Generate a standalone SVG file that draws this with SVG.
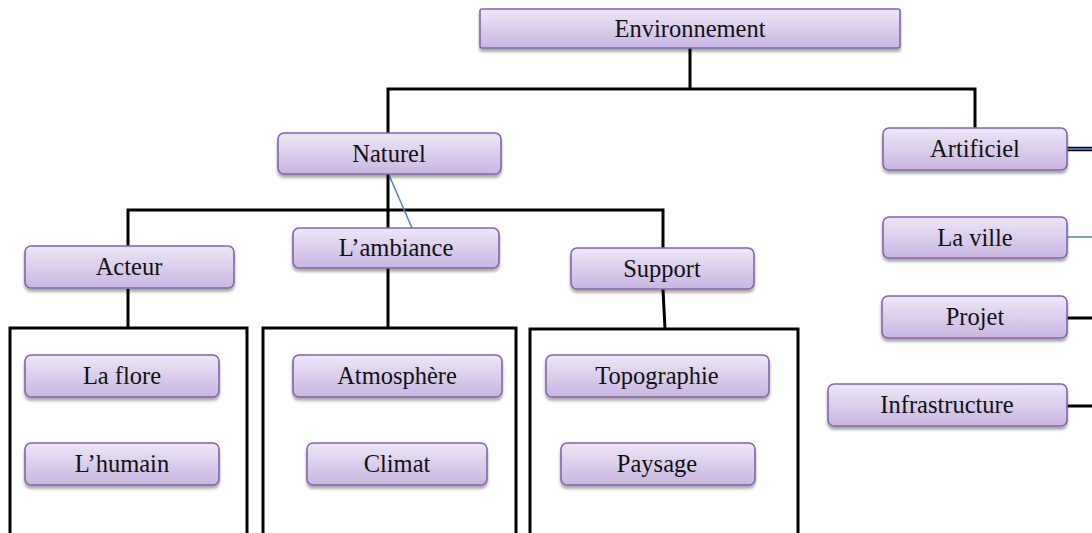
<svg xmlns="http://www.w3.org/2000/svg" width="1092" height="533" viewBox="0 0 1092 533">
<defs>
<linearGradient id="g" x1="0" y1="0" x2="0" y2="1">
<stop offset="0" stop-color="#ede6f7"/>
<stop offset="1" stop-color="#c9b5e2"/>
</linearGradient>
<filter id="sh" x="-10%" y="-20%" width="120%" height="160%">
<feGaussianBlur in="SourceAlpha" stdDeviation="1.5"/>
<feOffset dx="0" dy="2.5" result="b"/>
<feComponentTransfer><feFuncA type="linear" slope="0.35"/></feComponentTransfer>
<feMerge><feMergeNode/><feMergeNode in="SourceGraphic"/></feMerge>
</filter>
</defs>
<style>
.box{fill:url(#g);stroke:#8366a8;stroke-width:1.6;filter:url(#sh)}
text{font-family:'Liberation Serif','DejaVu Serif',serif;font-size:24.5px;fill:#111;text-anchor:middle}
.c{fill:none;stroke:#000;stroke-width:3}
.b{fill:none;stroke:#4f81bd;stroke-width:1.5}
</style>
<rect width="1092" height="533" fill="#fff"/>
<g id="connectors">
<path class="c" d="M690,48 V89 M388,133 V89 H975 V128"/>
<path class="c" d="M388,174 V210 M128,246 V210 H663 V248 M388,210 V228"/>
<path class="c" d="M128,289 V328 M388,268 V328 M663,289 L665,329"/>
<path class="c" d="M10,533 V328 H247 V533 M263,533 V328 H516 V533 M530,533 V329 H798 V533"/>
<path class="b" d="M389,175 L412,228"/>
<path d="M1067,149 H1092" stroke="#000" stroke-width="4.5"/>
<path d="M1067,149 H1092" stroke="#4f81bd" stroke-width="1.8"/>
<path class="b" d="M1067,237 H1092"/>
<path class="c" d="M1067,318 H1092 M1067,406 H1092"/>
</g>
<g id="environnement"><rect class="box" x="480" y="9" width="420" height="39" rx="2"/><text x="690" y="37">Environnement</text></g>
<g id="naturel"><rect class="box" x="278" y="133" width="223" height="41" rx="6"/><text x="389" y="162">Naturel</text></g>
<g id="artificiel"><rect class="box" x="883" y="128" width="184" height="42" rx="6"/><text x="975" y="157">Artificiel</text></g>
<g id="acteur"><rect class="box" x="25" y="246" width="209" height="42" rx="6"/><text x="129" y="275">Acteur</text></g>
<g id="ambiance"><rect class="box" x="293" y="228" width="206" height="40" rx="6"/><text x="396" y="256">L’ambiance</text></g>
<g id="support"><rect class="box" x="571" y="248" width="183" height="41" rx="6"/><text x="662" y="277">Support</text></g>
<g id="laflore"><rect class="box" x="25" y="355" width="194" height="42" rx="6"/><text x="122" y="384">La flore</text></g>
<g id="lhumain"><rect class="box" x="25" y="443" width="194" height="42" rx="6"/><text x="122" y="472">L’humain</text></g>
<g id="atmosphere"><rect class="box" x="293" y="355" width="209" height="42" rx="6"/><text x="397" y="384">Atmosphère</text></g>
<g id="climat"><rect class="box" x="307" y="443" width="180" height="42" rx="6"/><text x="397" y="472">Climat</text></g>
<g id="topographie"><rect class="box" x="546" y="355" width="223" height="42" rx="6"/><text x="657" y="384">Topographie</text></g>
<g id="paysage"><rect class="box" x="561" y="443" width="194" height="42" rx="6"/><text x="657" y="472">Paysage</text></g>
<g id="laville"><rect class="box" x="883" y="217" width="184" height="41" rx="6"/><text x="975" y="246">La ville</text></g>
<g id="projet"><rect class="box" x="882" y="296" width="185" height="42" rx="6"/><text x="975" y="325">Projet</text></g>
<g id="infrastructure"><rect class="box" x="828" y="384" width="239" height="42" rx="6"/><text x="947" y="413">Infrastructure</text></g>
</svg>
